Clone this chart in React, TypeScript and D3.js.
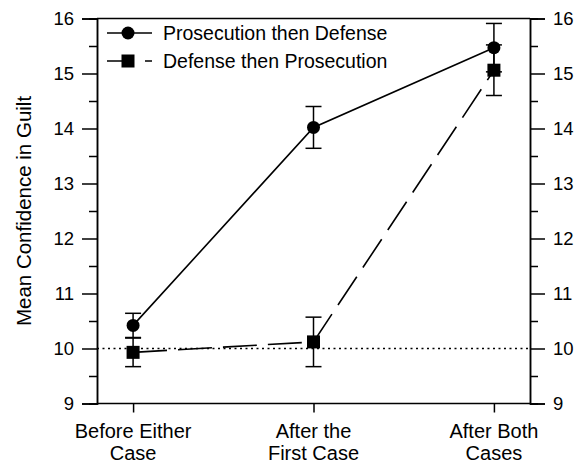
import React, { useRef, useEffect } from "react";
import * as d3 from "d3";

// stages on the x axis (two lines each)
const stages = [
  ["Before Either", "Case"],
  ["After the", "First Case"],
  ["After Both", "Cases"],
];
// Prosecution then Defense (circles, solid)
const prosMeans = [10.42, 14.02, 15.47];
const prosErr = [0.22, 0.38, 0.44];
// Defense then Prosecution (squares, dashed)
const defMeans = [9.93, 10.12, 15.06];
const defErr = [0.26, 0.45, 0.46];

const majorTicks = [9, 10, 11, 12, 13, 14, 15, 16];
const minorTicks = [9.5, 10.5, 11.5, 12.5, 13.5, 14.5, 15.5];
const baseline = 10;

const FONT = "'Liberation Sans', Arial, Helvetica, sans-serif";

const App = () => {
  const ref = useRef<SVGSVGElement>(null);

  useEffect(() => {
    const svg = d3.select(ref.current);
    svg.selectAll("*").remove();

    const left = 97,
      right = 530,
      top = 18.5,
      bottom = 403.5;

    const x = d3.scaleLinear().domain([-0.2, 2.2]).range([left, right]);
    const y = d3.scaleLinear().domain([9, 16]).range([bottom, top]);

    const styleAxis = (g) => {
      g.select(".domain").attr("stroke", "#000").attr("stroke-width", 1.5);
      g.selectAll(".tick line").attr("stroke", "#000").attr("stroke-width", 1.5);
      g.selectAll("text")
        .attr("font-family", FONT)
        .attr("font-size", 18.5)
        .attr("fill", "#000");
    };

    // left axis
    svg
      .append("g")
      .attr("transform", `translate(${left},0)`)
      .call(d3.axisLeft(y).tickValues(majorTicks).tickSize(15).tickPadding(8).tickFormat(d3.format("d")))
      .call(styleAxis);
    svg
      .append("g")
      .attr("transform", `translate(${left},0)`)
      .call(d3.axisLeft(y).tickValues(minorTicks).tickSize(8).tickFormat(() => ""))
      .call(styleAxis);

    // right axis
    svg
      .append("g")
      .attr("transform", `translate(${right},0)`)
      .call(d3.axisRight(y).tickValues(majorTicks).tickSize(15).tickPadding(8).tickFormat(d3.format("d")))
      .call(styleAxis);
    svg
      .append("g")
      .attr("transform", `translate(${right},0)`)
      .call(d3.axisRight(y).tickValues(minorTicks).tickSize(8).tickFormat(() => ""))
      .call(styleAxis);

    // top frame
    svg
      .append("line")
      .attr("x1", left)
      .attr("x2", right)
      .attr("y1", top)
      .attr("y2", top)
      .attr("stroke", "#000")
      .attr("stroke-width", 1.5);

    // bottom axis
    const xb = svg
      .append("g")
      .attr("transform", `translate(0,${bottom})`)
      .call(d3.axisBottom(x).tickValues([0, 1, 2]).tickSize(9).tickFormat(() => ""))
      .call(styleAxis);
    xb.select(".domain").attr("d", `M${left},0H${right}`);

    stages.forEach((lines, i) => {
      const t = svg
        .append("text")
        .attr("text-anchor", "middle")
        .attr("font-family", FONT)
        .attr("font-size", 20)
        .attr("fill", "#000");
      lines.forEach((s, j) => {
        t.append("tspan")
          .attr("x", x(i))
          .attr("y", 438 + j * 22)
          .text(s);
      });
    });

    // y label
    svg
      .append("text")
      .attr("transform", `translate(31,${(top + bottom) / 2}) rotate(-90)`)
      .attr("text-anchor", "middle")
      .attr("font-family", FONT)
      .attr("font-size", 20.5)
      .attr("fill", "#000")
      .text("Mean Confidence in Guilt");

    // dotted reference line at 10
    svg
      .append("line")
      .attr("x1", left)
      .attr("x2", right)
      .attr("y1", y(baseline))
      .attr("y2", y(baseline))
      .attr("stroke", "#000")
      .attr("stroke-width", 1.3)
      .attr("stroke-dasharray", "2,3.5");

    const series = [
      { means: prosMeans, errs: prosErr, dash: null, shape: "circle" },
      { means: defMeans, errs: defErr, dash: "34,11", shape: "square" },
    ];

    const line = d3
      .line<number>()
      .x((d, i) => x(i))
      .y((d) => y(d));

    series.forEach((s) => {
      // error bars
      s.means.forEach((m, i) => {
        const e = s.errs[i];
        const g = svg.append("g").attr("stroke", "#000").attr("stroke-width", 1.5);
        g.append("line").attr("x1", x(i)).attr("x2", x(i)).attr("y1", y(m - e)).attr("y2", y(m + e));
        [m - e, m + e].forEach((v) => {
          g.append("line")
            .attr("x1", x(i) - 8)
            .attr("x2", x(i) + 8)
            .attr("y1", y(v))
            .attr("y2", y(v));
        });
      });
      svg
        .append("path")
        .datum(s.means)
        .attr("d", line)
        .attr("fill", "none")
        .attr("stroke", "#000")
        .attr("stroke-width", 1.6)
        .attr("stroke-dasharray", s.dash);
    });

    // markers
    svg
      .selectAll(".pc")
      .data(prosMeans)
      .enter()
      .append("circle")
      .attr("cx", (d, i) => x(i))
      .attr("cy", (d) => y(d))
      .attr("r", 6.5)
      .attr("fill", "#000");
    svg
      .selectAll(".ds")
      .data(defMeans)
      .enter()
      .append("rect")
      .attr("x", (d, i) => x(i) - 6.5)
      .attr("y", (d) => y(d) - 6.5)
      .attr("width", 13)
      .attr("height", 13)
      .attr("fill", "#000");

    // legend
    const lg = svg.append("g");
    const rows = [
      { label: "Prosecution then Defense", dash: null, shape: "circle", yy: 33 },
      { label: "Defense then Prosecution", dash: "18,20", shape: "square", yy: 61 },
    ];
    rows.forEach((r) => {
      lg.append("line")
        .attr("x1", 107)
        .attr("x2", 152)
        .attr("y1", r.yy)
        .attr("y2", r.yy)
        .attr("stroke", "#000")
        .attr("stroke-width", 1.5)
        .attr("stroke-dasharray", r.dash);
      if (r.shape === "circle") {
        lg.append("circle").attr("cx", 128).attr("cy", r.yy).attr("r", 6.5).attr("fill", "#000");
      } else {
        lg.append("rect").attr("x", 121.5).attr("y", r.yy - 6.5).attr("width", 13).attr("height", 13).attr("fill", "#000");
      }
      lg.append("text")
        .attr("x", 163)
        .attr("y", r.yy)
        .attr("dy", "0.35em")
        .attr("font-family", FONT)
        .attr("font-size", 19.5)
        .attr("fill", "#000")
        .text(r.label);
    });
  }, []);

  return (
    <svg
      ref={ref}
      width={578}
      height={464}
      style={{ position: "absolute", left: 0, top: 0, background: "#fff" }}
    ></svg>
  );
};

export default App;
